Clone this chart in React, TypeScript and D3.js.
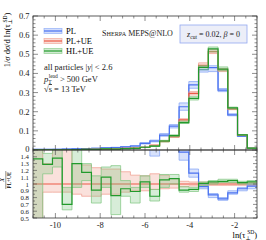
import React from "react";
import * as d3 from "d3";

// 23 equal bins in ln(tau) from -11 to -1
const binEdges = d3.range(24).map((i) => -11 + (i * 10) / 23);

// main panel: 1/sigma dsigma/dln(tau)
const plValues = [0.003, 0.003, 0.004, 0.005, 0.006, 0.007, 0.009, 0.011, 0.013, 0.016, 0.021, 0.035, 0.047, 0.078, 0.125, 0.226, 0.34, 0.42, 0.43, 0.313, 0.183, 0.073, 0.009];
const plueValues = [0.001, 0.001, 0.001, 0.002, 0.002, 0.003, 0.004, 0.005, 0.006, 0.008, 0.01, 0.014, 0.024, 0.045, 0.07, 0.157, 0.296, 0.442, 0.514, 0.418, 0.215, 0.078, 0.009];
const hlueValues = [0.0014, 0.0013, 0.0014, 0.0014, 0.0025, 0.0035, 0.0036, 0.0055, 0.005, 0.0074, 0.009, 0.0144, 0.02, 0.047, 0.075, 0.143, 0.27, 0.432, 0.528, 0.422, 0.22, 0.079, 0.0093];

// ratio panel: X / PL+UE
const plRatio = [3, 3, 4, 2.5, 3, 2.3, 2.2, 2.2, 2.1, 2, 2.1, 2.5, 1.62, 1.73, 1.79, 1.47, 1.16, 0.96, 0.84, 0.78, 0.87, 0.93, 0.97];
const plRatioLo = [2, 2, 2, 2, 2, 2, 2, 2, 2, 1.8, 1.8, 1.9, 1.41, 1.6, 1.65, 1.35, 1.1, 0.93, 0.8, 0.76, 0.85, 0.9, 0.93];
const plRatioHi = [4, 4, 4, 4, 4, 4, 4, 4, 4, 2.2, 2.4, 3, 1.8, 1.9, 1.9, 1.6, 1.22, 1.0, 0.86, 0.8, 0.9, 0.95, 1.0];
const hlueRatio = [1.37, 1.29, 1.38, 0.7, 1.3, 1.17, 0.91, 1.1, 0.83, 0.93, 0.89, 1.03, 0.82, 1.06, 1.08, 0.91, 0.92, 1.01, 1.03, 1.04, 1.05, 1.02, 1.03];
const hlueRatioLo = [0.4, 1.15, 1.25, 0.62, 0.95, 1.05, 0.72, 0.95, 0.55, 0.82, 0.72, 0.95, 0.75, 0.95, 1.0, 0.88, 0.89, 0.98, 1.0, 1.02, 1.02, 1.0, 1.0];
const hlueRatioHi = [1.6, 1.45, 1.6, 0.95, 1.6, 1.3, 1.12, 1.25, 1.27, 1.05, 0.95, 1.12, 0.92, 1.14, 1.14, 0.96, 0.95, 1.03, 1.05, 1.07, 1.07, 1.04, 1.05];
const plueRatioLo = [0.4, 0.88, 0.88, 0.88, 0.85, 0.82, 0.82, 0.85, 0.85, 0.88, 0.9, 0.9, 0.92, 0.93, 0.94, 0.96, 0.97, 0.98, 0.98, 0.98, 0.98, 0.98, 0.98];
const plueRatioHi = [1.6, 1.3, 1.6, 1.6, 1.3, 1.28, 1.24, 1.22, 1.22, 1.18, 1.13, 1.12, 1.15, 1.13, 1.08, 1.04, 1.03, 1.03, 1.02, 1.02, 1.02, 1.02, 1.02];

const mainTicks = [0, 0.1, 0.2, 0.3, 0.4, 0.5, 0.6, 0.7];
const ratioTicks = [0.5, 0.6, 0.7, 0.8, 0.9, 1, 1.1, 1.2, 1.3, 1.4];
const xTicks = [-10, -8, -6, -4, -2];

const colors = {
  pl: { line: "#4a72f0", band: "#7f9ff5" },
  plue: { line: "#ec5a46", band: "#ef9a8c" },
  hlue: { line: "#229a2c", band: "#7cc47e" },
};

const L = 33, R = 257, T = 16, MB = 150, RB = 218;
const font = "'Liberation Serif', 'DejaVu Serif', serif";

const x = d3.scaleLinear().domain([-11, -1]).range([L, R]);
const yMain = d3.scaleLinear().domain([0, 0.7]).range([MB, T]);
const yRatio = d3.scaleLinear().domain([0.5, 1.5]).range([RB, MB]);

type Pt = { x: number; lo: number; hi: number; v: number };

function steps(v: number[], lo: number[], hi: number[]): Pt[] {
  const pts: Pt[] = [];
  v.forEach((d, i) => {
    pts.push({ x: binEdges[i], v: d, lo: lo[i], hi: hi[i] });
    pts.push({ x: binEdges[i + 1], v: d, lo: lo[i], hi: hi[i] });
  });
  return pts;
}

function Series({ pts, y, c }: { pts: Pt[]; y: d3.ScaleLinear<number, number>; c: { line: string; band: string } }) {
  const area = d3.area<Pt>().x((d) => x(d.x)).y0((d) => y(d.lo)).y1((d) => y(d.hi));
  const lo = d3.line<Pt>().x((d) => x(d.x)).y((d) => y(d.lo));
  const hi = d3.line<Pt>().x((d) => x(d.x)).y((d) => y(d.hi));
  const mid = d3.line<Pt>().x((d) => x(d.x)).y((d) => y(d.v));
  return (
    <g>
      <path d={area(pts) || ""} fill={c.band} fillOpacity={0.3} />
      <path d={lo(pts) || ""} fill="none" stroke={c.band} strokeOpacity={0.7} strokeWidth={1} />
      <path d={hi(pts) || ""} fill="none" stroke={c.band} strokeOpacity={0.7} strokeWidth={1} />
      <path d={mid(pts) || ""} fill="none" stroke={c.line} strokeWidth={1.2} />
    </g>
  );
}

// main-panel band: the relative spread
function mainPts(v: number[], r: number[], lo: number[], hi: number[]) {
  return steps(
    v,
    v.map((d, i) => d * Math.max(lo[i] / r[i], 0.9)),
    v.map((d, i) => d * Math.min(hi[i] / r[i], 1.1))
  );
}

function Ticks({ top, bottom, y, major, minor, long }: any) {
  const out: JSX.Element[] = [];
  d3.range(-11, -0.99, 0.5).forEach((t, i) => {
    const big = Math.abs(t - Math.round(t)) < 1e-6 && Math.round(t) % 2 === 0;
    const len = big ? 5 : 2.5;
    out.push(<line key={"b" + i} x1={x(t)} x2={x(t)} y1={bottom} y2={bottom - len} />);
    out.push(<line key={"t" + i} x1={x(t)} x2={x(t)} y1={top} y2={top + len} />);
  });
  minor.forEach((t: number, i: number) => {
    const isMajor = major.some((m: number) => Math.abs(m - t) < 1e-6);
    const len = isMajor ? long : long / 2;
    out.push(<line key={"l" + i} x1={L} x2={L + len} y1={y(t)} y2={y(t)} />);
    out.push(<line key={"r" + i} x1={R} x2={R - len} y1={y(t)} y2={y(t)} />);
  });
  return <g stroke="#444" strokeWidth={0.6}>{out}</g>;
}

function LegendEntry({ yy, c, label }: { yy: number; c: { line: string; band: string }; label: string }) {
  return (
    <g>
      <rect x={44} y={yy - 2.5} width={18} height={5} fill={c.band} fillOpacity={0.35} stroke={c.band} strokeOpacity={0.7} strokeWidth={0.8} />
      <line x1={44} x2={62} y1={yy} y2={yy} stroke={c.line} strokeWidth={1.2} />
      <text x={66} y={yy + 3} fontSize={8.5}>{label}</text>
    </g>
  );
}

export default function App() {
  const minorMain = d3.range(0, 0.701, 0.02).map((d) => +d.toFixed(2));
  const minorRatio = d3.range(0.5, 1.501, 0.05).map((d) => +d.toFixed(2));
  return (
    <svg width={266} height={240} style={{ position: "absolute", left: 0, top: 0, background: "#fff" }} fontFamily={font}>
      <defs>
        <clipPath id="cm"><rect x={L} y={T} width={R - L} height={MB - T} /></clipPath>
        <clipPath id="cr"><rect x={L} y={MB} width={R - L} height={RB - MB} /></clipPath>
      </defs>

      {/* main panel */}
      <g clipPath="url(#cm)">
        <Series pts={mainPts(plValues, plRatio, plRatioLo, plRatioHi)} y={yMain} c={colors.pl} />
        <Series pts={mainPts(plueValues, plueValues.map(() => 1), plueRatioLo, plueRatioHi)} y={yMain} c={colors.plue} />
        <Series pts={mainPts(hlueValues, hlueRatio, hlueRatioLo, hlueRatioHi)} y={yMain} c={colors.hlue} />
      </g>

      {/* ratio panel */}
      <g clipPath="url(#cr)">
        <Series pts={steps(plueValues.map(() => 1), plueRatioLo, plueRatioHi)} y={yRatio} c={colors.plue} />
        <Series pts={steps(plRatio, plRatioLo, plRatioHi)} y={yRatio} c={colors.pl} />
        <Series pts={steps(hlueRatio, hlueRatioLo, hlueRatioHi)} y={yRatio} c={colors.hlue} />
      </g>

      <Ticks top={T} bottom={MB} y={yMain} major={mainTicks} minor={minorMain} long={5} />
      <Ticks top={MB} bottom={RB} y={yRatio} major={ratioTicks} minor={minorRatio} long={4} />
      <rect x={L} y={T} width={R - L} height={MB - T} fill="none" stroke="#333" strokeWidth={0.8} />
      <rect x={L} y={MB} width={R - L} height={RB - MB} fill="none" stroke="#333" strokeWidth={0.8} />

      {/* tick labels */}
      <g fontSize={8.5} textAnchor="end" fill="#222">
        {mainTicks.map((t) => (
          <text key={t} x={29.5} y={yMain(t) + (t === 0 ? 2 : 3)}>{t === 0 ? "0" : t.toFixed(1)}</text>
        ))}
      </g>
      <g fontSize={6.8} textAnchor="end" fill="#222">
        {ratioTicks.map((t) => (
          <text key={t} x={29} y={yRatio(t) + 2.6}>{t === 1 ? "1" : t.toFixed(1)}</text>
        ))}
      </g>
      <g fontSize={8.5} textAnchor="middle" fill="#222">
        {xTicks.map((t) => (
          <text key={t} x={x(t)} y={228}>{"-" + Math.abs(t)}</text>
        ))}
      </g>

      {/* axis labels */}
      <text x={R} y={237.5} fontSize={8.5} textAnchor="end">
        ln(τ<tspan fontSize={5.5} dy={2}>⊥</tspan><tspan fontSize={5.5} dx={-3.5} dy={-5.5}>SD</tspan><tspan dy={3.5}>)</tspan>
      </text>
      <text transform="translate(10,40) rotate(-90)" fontSize={8.5} textAnchor="middle">
        1/<tspan fontStyle="italic">σ</tspan> d<tspan fontStyle="italic">σ</tspan>/d ln(τ<tspan fontSize={5.5} dy={2}>⊥</tspan><tspan fontSize={5.5} dx={-3.5} dy={-5.5}>SD</tspan><tspan dy={3.5}>)</tspan>
      </text>
      <g transform="translate(5.5,180) rotate(-90)">
        <text y={-1.2} fontSize={6} textAnchor="middle" fontStyle="italic">X</text>
        <line x1={-9} x2={9} y1={0.3} y2={0.3} stroke="#222" strokeWidth={0.5} />
        <text y={5} fontSize={5.5} textAnchor="middle">PL+UE</text>
      </g>

      {/* legend */}
      <LegendEntry yy={31} c={colors.pl} label="PL" />
      <LegendEntry yy={41} c={colors.plue} label="PL+UE" />
      <LegendEntry yy={51} c={colors.hlue} label="HL+UE" />

      <g fontSize={8.5} fill="#222">
        <text x={44} y={70}>all particles |<tspan fontStyle="italic">y</tspan>| &lt; 2.6</text>
        <text x={44} y={82}>
          <tspan fontStyle="italic">p</tspan><tspan fontSize={5.5} dy={2}>T</tspan><tspan fontSize={5.5} dx={-3} dy={-6}>lead</tspan><tspan dy={4}> &gt; 500 GeV</tspan>
        </text>
        <text x={44} y={92}>√<tspan textDecoration="overline">s</tspan> = 13 TeV</text>
      </g>

      <text x={102} y={36} fontSize={8} fill="#222">
        S<tspan fontSize={6.2}>HERPA</tspan> MEPS@NLO
      </text>
      <rect x={180} y={25} width={67} height={18} fill="#eceef8" stroke="#93a8f0" strokeWidth={0.8} />
      <text x={213.5} y={37} fontSize={8} textAnchor="middle" fill="#222">
        <tspan fontStyle="italic">z</tspan><tspan fontSize={5.5} dy={1.5}>cut</tspan><tspan dy={-1.5}> = 0.02, </tspan><tspan fontStyle="italic">β</tspan> = 0
      </text>
    </svg>
  );
}
